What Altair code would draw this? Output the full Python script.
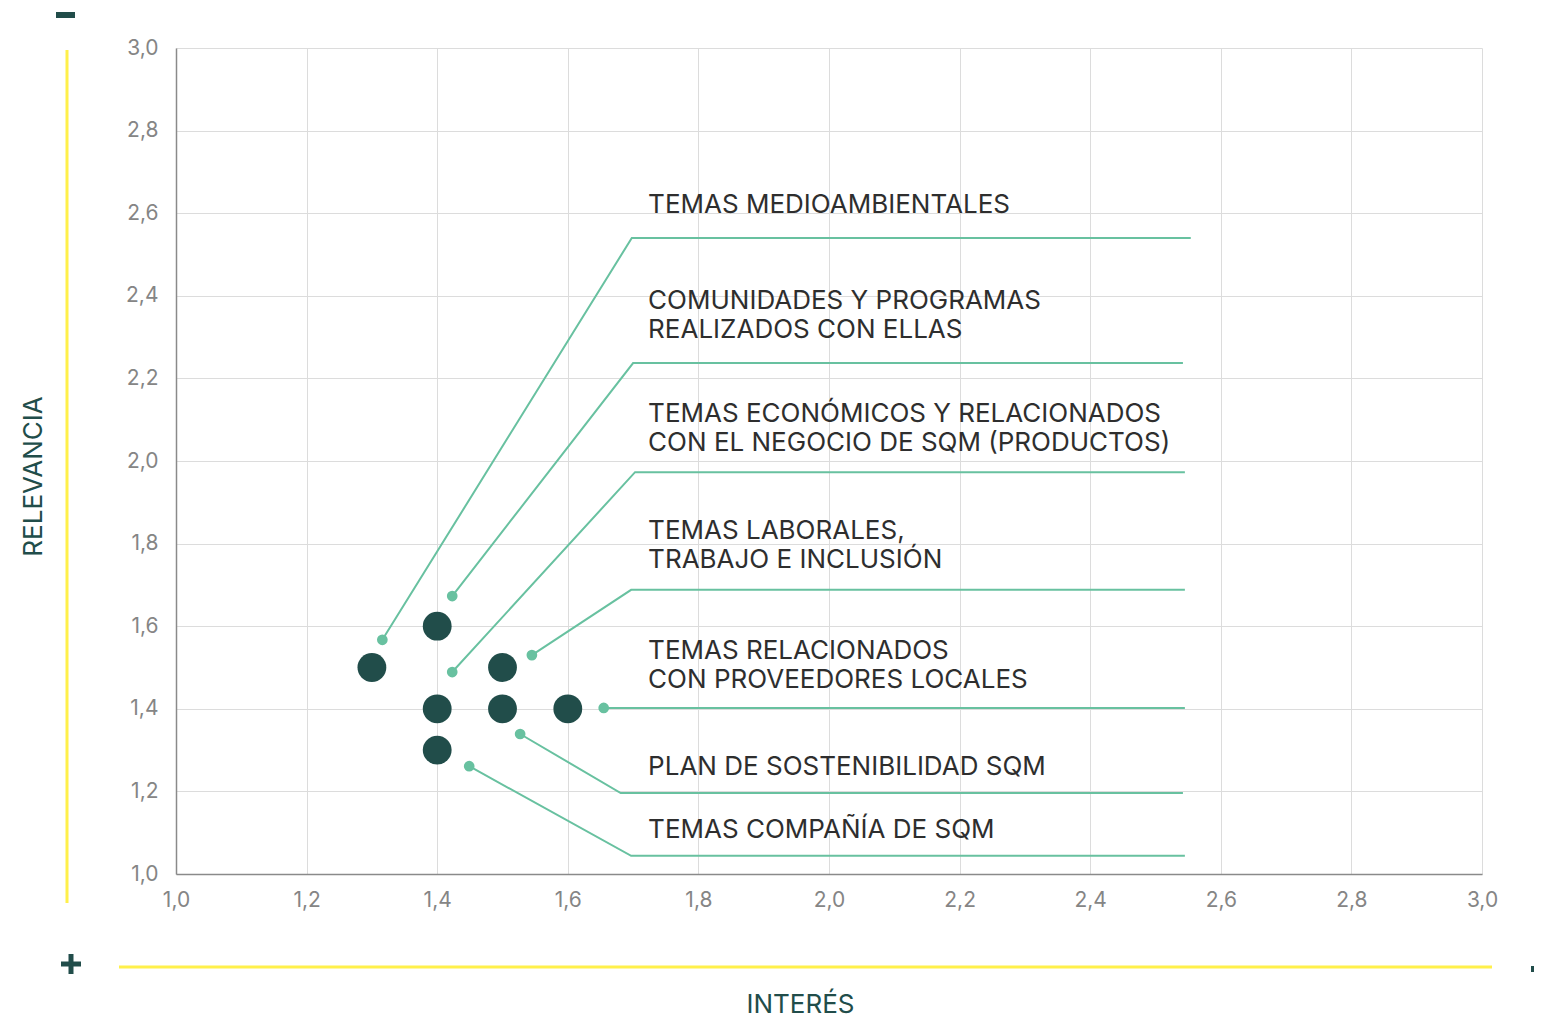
import altair as alt
import pandas as pd

FONT = "Inter"
DARK = "#214d4a"
GREEN = "#68c1a0"
YELLOW = "#fff04a"

# Main data points (interés, relevancia)
dot_x = [1.3, 1.4, 1.4, 1.4, 1.5, 1.5, 1.6]
dot_y = [1.5, 1.6, 1.4, 1.3, 1.5, 1.4, 1.4]

# Leader lines (one group per theme)
lead_id = [1, 1, 1, 2, 2, 2, 3, 3, 3, 4, 4, 4, 5, 5, 6, 6, 6, 7, 7, 7]
lead_x = [1.316, 1.698, 2.554,
          1.423, 1.700, 2.542,
          1.423, 1.703, 2.545,
          1.545, 1.697, 2.545,
          1.655, 2.545,
          1.527, 1.681, 2.542,
          1.449, 1.697, 2.545]
lead_y = [1.567, 2.540, 2.540,
          1.673, 2.237, 2.237,
          1.489, 1.973, 1.973,
          1.530, 1.688, 1.688,
          1.402, 1.402,
          1.339, 1.196, 1.196,
          1.261, 1.044, 1.044]
lead_seq = [0, 1, 2, 0, 1, 2, 0, 1, 2, 0, 1, 2, 0, 1, 0, 1, 2, 0, 1, 2]

# Anchor dots at the start of each leader
anchor_x = [1.316, 1.423, 1.423, 1.545, 1.655, 1.527, 1.449]
anchor_y = [1.567, 1.673, 1.489, 1.530, 1.402, 1.339, 1.261]

# Theme labels
labels = [
    "TEMAS MEDIOAMBIENTALES",
    "COMUNIDADES Y PROGRAMAS\nREALIZADOS CON ELLAS",
    "TEMAS ECONÓMICOS Y RELACIONADOS\nCON EL NEGOCIO DE SQM (PRODUCTOS)",
    "TEMAS LABORALES,\nTRABAJO E INCLUSIÓN",
    "TEMAS RELACIONADOS\nCON PROVEEDORES LOCALES",
    "PLAN DE SOSTENIBILIDAD SQM",
    "TEMAS COMPAÑÍA DE SQM",
]
label_x = [1.723, 1.723, 1.723, 1.723, 1.723, 1.723, 1.723]
label_y = [2.600, 2.368, 2.094, 1.811, 1.521, 1.240, 1.087]

tick_vals = [1.0, 1.2, 1.4, 1.6, 1.8, 2.0, 2.2, 2.4, 2.6, 2.8, 3.0]

dots = pd.DataFrame({"x": dot_x, "y": dot_y})
leads = pd.DataFrame({"id": lead_id, "x": lead_x, "y": lead_y, "seq": lead_seq})
anchors = pd.DataFrame({"x": anchor_x, "y": anchor_y})
texts = pd.DataFrame({"label": labels, "x": label_x, "y": label_y})

LBL = "replace(format(datum.value, '.1f'), '.', ',')"

xscale = alt.Scale(domain=[1, 3], nice=False, zero=False)
yscale = alt.Scale(domain=[1, 3], nice=False, zero=False)

xaxis = alt.Axis(
    values=tick_vals, labelExpr=LBL, title="INTERÉS", ticks=False,
    grid=True, gridColor="#dcdcdc", gridWidth=1,
    domainColor="#8a8a8a", domainWidth=1.5, labelFlush=False,
    labelFont=FONT, labelFontSize=21, labelColor="#858585", labelPadding=15,
    titleFont=FONT, titleFontSize=26, titleFontWeight="normal", titleColor=DARK,
    titleX=624, titleY=138, titleAlign="center", titleBaseline="alphabetic",
)
yaxis = alt.Axis(
    values=tick_vals, labelExpr=LBL, title="RELEVANCIA", ticks=False,
    grid=True, gridColor="#dcdcdc", gridWidth=1,
    domainColor="#8a8a8a", domainWidth=1.5, labelFlush=False,
    labelFont=FONT, labelFontSize=21, labelColor="#858585", labelPadding=18,
    labelBaseline="middle",
    titleFont=FONT, titleFontSize=26, titleFontWeight="normal", titleColor=DARK,
    titleX=-143, titleY=428, titleAngle=270, titleAlign="center", titleBaseline="middle",
)

base_pts = alt.Chart(dots).mark_circle(size=830, color=DARK, opacity=1).encode(
    x=alt.X("x:Q", scale=xscale, axis=xaxis),
    y=alt.Y("y:Q", scale=yscale, axis=yaxis),
)

lines = alt.Chart(leads).mark_line(color=GREEN, strokeWidth=2).encode(
    x=alt.X("x:Q", scale=xscale),
    y=alt.Y("y:Q", scale=yscale),
    detail="id:N",
    order="seq:Q",
)

anchor_pts = alt.Chart(anchors).mark_circle(size=115, color=GREEN, opacity=1).encode(
    x=alt.X("x:Q", scale=xscale),
    y=alt.Y("y:Q", scale=yscale),
)

label_text = alt.Chart(texts).mark_text(
    align="left", baseline="alphabetic", font=FONT, fontSize=26,
    color="#2e2e2e", lineBreak="\n", lineHeight=29,
).encode(
    x=alt.X("x:Q", scale=xscale),
    y=alt.Y("y:Q", scale=yscale),
    text="label:N",
)

one = pd.DataFrame({"a": [0]})

# Decorations: yellow lines and +/- signs
yel_v = alt.Chart(one).mark_rule(color=YELLOW, strokeWidth=3).encode(
    x=alt.value(-109), y=alt.value(2), y2=alt.value(855))
yel_h = alt.Chart(one).mark_rule(color=YELLOW, strokeWidth=3).encode(
    x=alt.value(-57), x2=alt.value(1316), y=alt.value(919))
minus_top = alt.Chart(one).mark_rule(color=DARK, strokeWidth=6).encode(
    x=alt.value(-120), x2=alt.value(-101), y=alt.value(-33))
plus_h = alt.Chart(one).mark_rule(color=DARK, strokeWidth=5).encode(
    x=alt.value(-115), x2=alt.value(-95), y=alt.value(916))
plus_v = alt.Chart(one).mark_rule(color=DARK, strokeWidth=5).encode(
    x=alt.value(-105), y=alt.value(906), y2=alt.value(926))
minus_right = alt.Chart(one).mark_rule(color=DARK, strokeWidth=6).encode(
    x=alt.value(1355), x2=alt.value(1370), y=alt.value(921))

chart = alt.layer(
    base_pts, lines, anchor_pts, label_text,
    yel_v, yel_h, minus_top, plus_h, plus_v, minus_right,
).properties(
    width=1306, height=826,
    autosize=alt.AutoSizeParams(type="none"),
    padding={"left": 168, "top": 40, "right": 52, "bottom": 143},
).configure_view(stroke=None)

chart.save("out.html", embed_options={"renderer": "svg", "actions": False})
